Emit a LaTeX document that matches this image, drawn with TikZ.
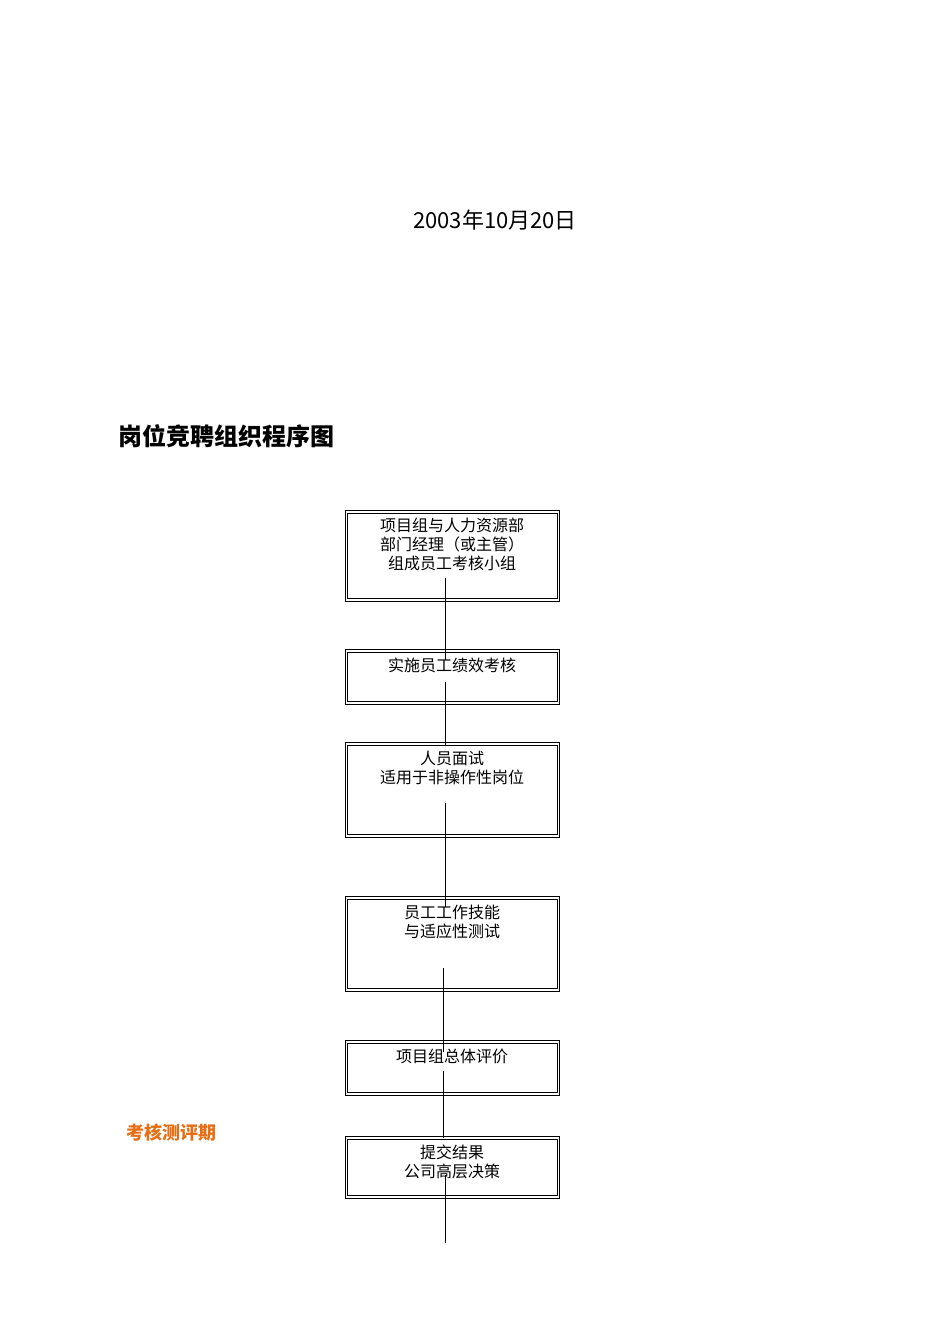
\documentclass[tikz,border=0pt]{standalone}
\usepackage{fontspec}
\newfontfamily\cjk{Noto Sans CJK SC}
\begin{document}
\begin{tikzpicture}[x=1pt,y=-1pt,
 box/.style={draw,line width=0.9pt,double=white,double distance=1.6pt,minimum width=212pt,inner sep=0pt},
 txt/.style={anchor=north,align=center,font=\cjk\fontsize{16}{19}\selectfont,inner sep=0pt},
 conn/.style={line width=0.8pt}]
\useasboundingbox (0,0) rectangle (950,1344);
\node[font=\cjk\fontsize{22}{26}\selectfont] (date) at (495,220) {2003年10月20日};
\node[anchor=west,font=\cjk\bfseries\fontsize{24}{28}\selectfont] (title) at (115,436) {岗位竞聘组织程序图};
\node[anchor=west,text={rgb,255:red,230;green,110;blue,20},font=\cjk\bfseries\fontsize{18}{22}\selectfont] (phase) at (123,1133) {考核测评期};
\node[box,minimum height=88pt] (b1) at (452.5,556) {};
\node[box,minimum height=52pt] (b2) at (452.5,677) {};
\node[box,minimum height=92pt] (b3) at (452.5,790) {};
\node[box,minimum height=92pt] (b4) at (452.5,944) {};
\node[box,minimum height=52pt] (b5) at (452.5,1068) {};
\node[box,minimum height=59pt] (b6) at (452.5,1167.5) {};
\node[txt] (t1) at (452,518) {项目组与人力资源部\\部门经理（或主管）\\组成员工考核小组};
\node[txt] (t2) at (452,658) {实施员工绩效考核};
\node[txt] (t3) at (452,751) {人员面试\\适用于非操作性岗位};
\node[txt] (t4) at (452,905) {员工工作技能\\与适应性测试};
\node[txt] (t5) at (452,1049) {项目组总体评价};
\node[txt] (t6) at (452,1145) {提交结果\\公司高层决策};
\coordinate (e) at (445,1243);
\draw[conn] ([xshift=-7.5pt,yshift=22pt]b1.south) -- ([xshift=-7.5pt,yshift=-9pt]b2.north);
\draw[conn] ([xshift=-7.5pt,yshift=21pt]b2.south) -- ([xshift=-7.5pt,yshift=-1pt]b3.north);
\draw[conn] ([xshift=-7.5pt,yshift=33pt]b3.south) -- ([xshift=-7.5pt,yshift=-9pt]b4.north);
\draw[conn] ([xshift=-9pt,yshift=22pt]b4.south) -- ([xshift=-9pt,yshift=-10pt]b5.north);
\draw[conn] ([xshift=-9pt,yshift=23pt]b5.south) -- ([xshift=-9pt,yshift=0pt]b6.north);
\draw[conn] ([xshift=-7.5pt,yshift=22pt]b6.south) -- (e);
\end{tikzpicture}
\end{document}
